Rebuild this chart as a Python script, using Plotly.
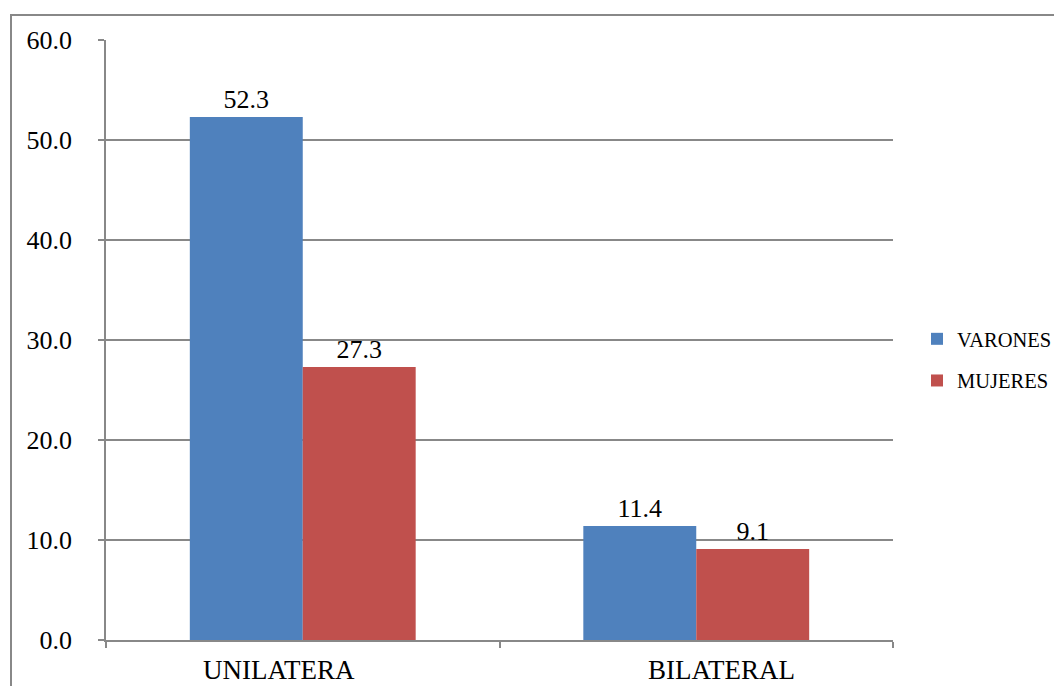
import plotly.graph_objects as go

categories = ["UNILATERA", "BILATERAL"]
varones = [52.3, 11.4]
mujeres = [27.3, 9.1]
y_ticks = [0, 10, 20, 30, 40, 50, 60]

FONT = "Liberation Serif"
GRID = "#888888"

fig = go.Figure()
fig.add_trace(go.Bar(
    name="VARONES", x=categories, y=varones,
    marker=dict(color="#4F81BD", line=dict(width=0)),
    text=[f"{v:.1f}" for v in varones], textposition="outside",
    textfont=dict(family=FONT, size=26, color="#000000"),
    cliponaxis=False, legendgroup="v",
))
fig.add_trace(go.Bar(
    name="MUJERES", x=categories, y=mujeres,
    marker=dict(color="#C0504D", line=dict(width=0)),
    text=[f"{v:.1f}" for v in mujeres], textposition="outside",
    textfont=dict(family=FONT, size=26, color="#000000"),
    cliponaxis=False, legendgroup="m",
))

# category labels sit slightly off-centre under each group
label_shift = [-24, 25]
for cat, dx in zip(categories, label_shift):
    fig.add_annotation(
        x=cat, xref="x", y=0, yref="paper", yanchor="top",
        xshift=dx, yshift=-13, showarrow=False, text=cat,
        font=dict(family=FONT, size=27, color="#000000"),
    )

fig.update_layout(
    width=1054, height=686,
    margin=dict(l=106, r=161, t=40, b=46, autoexpand=False),
    paper_bgcolor="white", plot_bgcolor="white",
    barmode="group", bargap=0.426, bargroupgap=0,
    font=dict(family=FONT, size=26, color="#000000"),
    showlegend=True,
    legend=dict(
        x=1.0305, y=0.535, xanchor="left", yanchor="top",
        font=dict(family=FONT, size=20.5, color="#000000"),
        tracegroupgap=12, traceorder="grouped",
        bgcolor="rgba(0,0,0,0)",
    ),
    xaxis=dict(
        type="category", showgrid=False,
        showline=True, linecolor=GRID, linewidth=1.5,
        ticks="outside", tickson="boundaries", ticklen=6,
        tickcolor=GRID, tickwidth=1.5, showticklabels=False,
    ),
    yaxis=dict(
        range=[0, 60], tickvals=y_ticks, tickformat=".1f",
        showgrid=True, gridcolor=GRID, gridwidth=1.5,
        showline=True, linecolor=GRID, linewidth=1.5,
        ticks="outside", ticklen=6, tickcolor=GRID, tickwidth=1.5,
        ticklabelstandoff=21,
        tickfont=dict(family=FONT, size=26, color="#000000"),
        zeroline=False,
    ),
    shapes=[dict(
        type="rect", xref="paper", yref="paper",
        x0=(11 - 106) / 787, x1=1.5,
        y0=-0.2, y1=(640 - 15) / 600,
        line=dict(color="#888888", width=2), fillcolor="rgba(0,0,0,0)",
        layer="below",
    )],
)

fig.write_html("out.html")
